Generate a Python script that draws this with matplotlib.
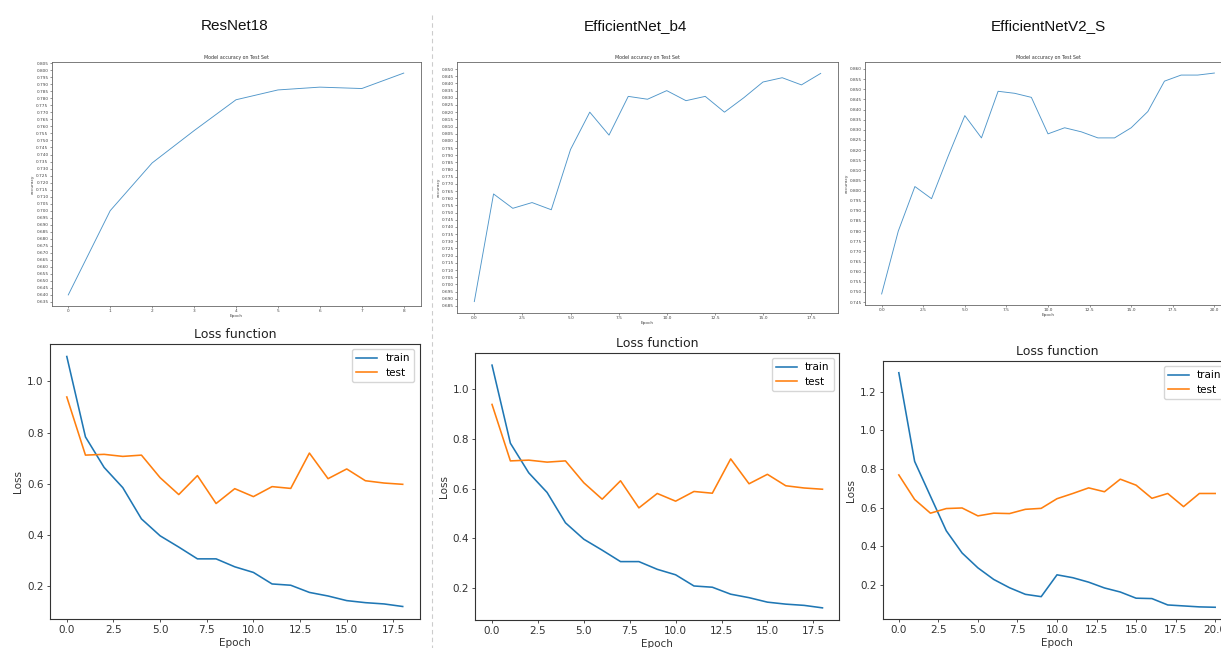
import matplotlib
matplotlib.use("Agg")
import matplotlib.pyplot as plt
from matplotlib.ticker import MultipleLocator, FormatStrFormatter
from matplotlib.lines import Line2D

W, H = 1221, 648

# ---------------- data ----------------
model_names = ["ResNet18", "EfficientNet_b4", "EfficientNetV2_S"]

acc_resnet18 = [0.640, 0.700, 0.734, 0.757, 0.779, 0.786, 0.788, 0.787, 0.798]
acc_effb4 = [0.688, 0.763, 0.753, 0.757, 0.752, 0.794, 0.820, 0.804, 0.831, 0.829,
             0.835, 0.828, 0.831, 0.820, 0.830, 0.841, 0.844, 0.839, 0.847]
acc_effv2s = [0.749, 0.780, 0.802, 0.796, 0.817, 0.837, 0.826, 0.849, 0.848, 0.846,
              0.828, 0.831, 0.829, 0.826, 0.826, 0.831, 0.839, 0.854, 0.857, 0.857, 0.858]

loss_train_a = [1.097, 0.783, 0.664, 0.585, 0.463, 0.397, 0.353, 0.307, 0.307, 0.276,
                0.254, 0.209, 0.204, 0.176, 0.162, 0.144, 0.136, 0.131, 0.121]
loss_test_a = [0.939, 0.712, 0.715, 0.707, 0.712, 0.624, 0.558, 0.632, 0.523, 0.581,
               0.550, 0.589, 0.582, 0.720, 0.620, 0.658, 0.612, 0.603, 0.598]

loss_train_c = [1.299, 0.840, 0.660, 0.481, 0.366, 0.289, 0.229, 0.186, 0.152, 0.140,
                0.253, 0.238, 0.215, 0.185, 0.164, 0.132, 0.130, 0.097, 0.092, 0.087, 0.085]
loss_test_c = [0.770, 0.643, 0.572, 0.596, 0.599, 0.558, 0.572, 0.570, 0.592, 0.597,
               0.647, 0.674, 0.703, 0.683, 0.748, 0.717, 0.649, 0.674, 0.606, 0.674, 0.674]

top_series = [acc_resnet18, acc_effb4, acc_effv2s]
bottom_series = [(loss_train_a, loss_test_a), (loss_train_a, loss_test_a),
                 (loss_train_c, loss_test_c)]

# ---------------- layout (pixel boxes: left, top, right, bottom) ----------------
top_boxes = [(51.5, 62, 420.5, 306), (457, 62, 838, 313), (865, 62, 1231, 305)]
bot_boxes = [(50, 344, 419.5, 619), (475.5, 353, 839, 620), (883, 361, 1231, 619)]
title_x = [235, 635, 1048]


def add_ax(fig, box):
    l, t, r, b = box
    return fig.add_axes([l / W, 1 - b / H, (r - l) / W, (b - t) / H])


fig = plt.figure(figsize=(W / 100, H / 100), dpi=100)
fig.patch.set_facecolor("white")

for i, box in enumerate(top_boxes):
    ax = add_ax(fig, box)
    y = top_series[i]
    ax.plot(range(len(y)), y, color="#3d8bc4", lw=0.65, alpha=0.9)
    ax.yaxis.set_major_locator(MultipleLocator(0.005))
    ax.yaxis.set_major_formatter(FormatStrFormatter("%.3f"))
    ax.tick_params(labelsize=3.1, length=1.2, width=0.4, pad=1, colors="#444444")
    for s in ax.spines.values():
        s.set_linewidth(0.6)
        s.set_color("#666666")
    ax.set_title("Model accuracy on Test Set", fontsize=3.4, pad=2, color="#333333")
    ax.set_xlabel("Epoch", fontsize=3.1, labelpad=1, color="#444444")
    ax.set_ylabel("accuracy", fontsize=3.1, labelpad=1, color="#444444")

for i, box in enumerate(bot_boxes):
    ax = add_ax(fig, box)
    tr, te = bottom_series[i]
    ax.plot(range(len(tr)), tr, color="#1f77b4", lw=1.15, label="train")
    ax.plot(range(len(te)), te, color="#ff7f0e", lw=1.15, label="test")
    ax.tick_params(labelsize=7.5, length=2.5, width=0.6, pad=2, colors="#333333")
    for s in ax.spines.values():
        s.set_linewidth(0.8)
        s.set_color("#333333")
    ax.set_title("Loss function", fontsize=9, pad=4, color="#222222")
    ax.set_xlabel("Epoch", fontsize=7.5, labelpad=2, color="#333333")
    ax.set_ylabel("Loss", fontsize=7.5, labelpad=3, color="#333333")
    ax.legend(loc="upper right", fontsize=7.5, handlelength=2.0, borderpad=0.4,
              labelspacing=0.4)

for name, x in zip(model_names, title_x):
    fig.text(x / W, 1 - 26 / H, name, ha="center", va="center", fontsize=11,
             family="Liberation Sans", color="#111111")

fig.add_artist(Line2D([432 / W, 432 / W], [1 - 15 / H, 0], linestyle=(0, (4, 3)),
                      color="#cccccc", lw=0.8))

fig.savefig("out.png", dpi=100, facecolor="white")
